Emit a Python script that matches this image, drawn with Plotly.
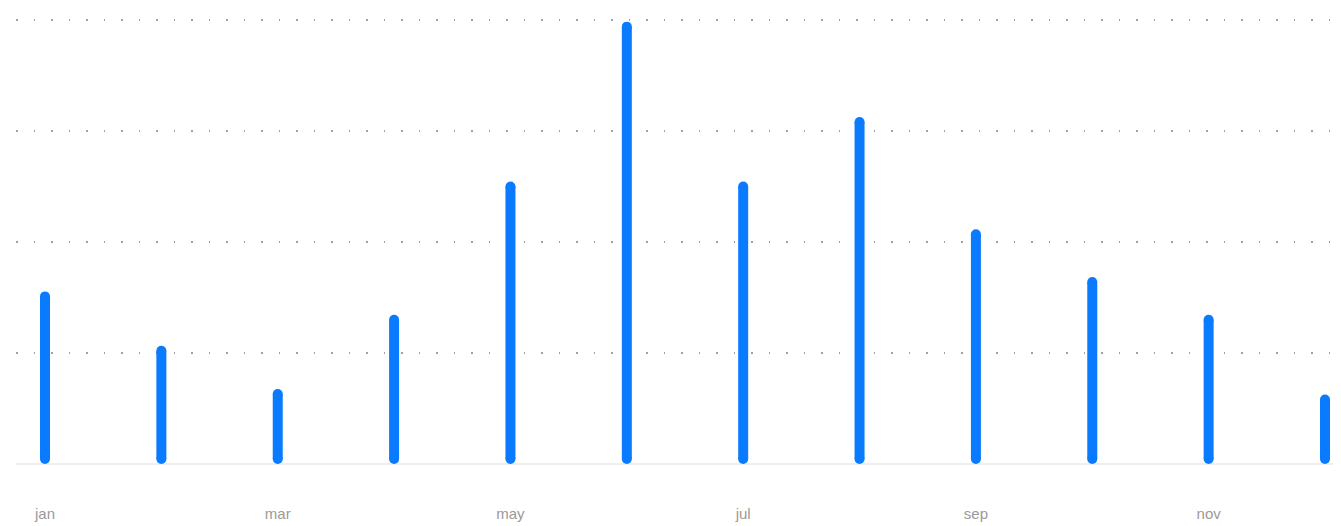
import plotly.graph_objects as go

months = ["jan", "feb", "mar", "apr", "may", "jun", "jul", "aug", "sep", "oct", "nov", "dec"]
values = [151, 102, 63, 130, 250, 394, 250, 308, 207, 164, 130, 58]
tick_months = ["jan", "mar", "may", "jul", "sep", "nov"]
grid_values = [0, 100, 200, 300, 400]

# page has an 8px body margin
BODY = 8
PAGE_W, PAGE_H = 1341, 526
W, H = PAGE_W - BODY, PAGE_H - BODY
plot_left, plot_right, plot_top, plot_bottom = 16, 1341, 10, 474
m_l = plot_left - BODY
m_r = (BODY + W) - plot_right
m_t = plot_top - BODY
m_b = (BODY + H) - plot_bottom
plot_h = plot_bottom - plot_top

pad_px = 10
unit_per_px = 400 / (plot_h - 2 * pad_px)
y_range = [-pad_px * unit_per_px, 400 + pad_px * unit_per_px]

cap_px = 5
base = cap_px * unit_per_px

idx = list(range(len(months)))
xs, ys = [], []
for i, v in zip(idx, values):
    xs += [i, i, None]
    ys += [base, v, None]

fig = go.Figure()
fig.add_trace(go.Scatter(
    x=xs, y=ys, mode="lines+markers",
    line=dict(color="#0A7BFF", width=10),
    marker=dict(color="#0A7BFF", size=10, line=dict(width=0)),
    hoverinfo="skip", showlegend=False,
))

first_px, last_px = 45, 1325
px_per_x = (last_px - first_px) / 11
x_range = [-(first_px - plot_left) / px_per_x, 11 + (plot_right - last_px) / px_per_x]

fig.update_layout(
    width=W, height=H,
    margin=dict(l=m_l, r=m_r, t=m_t, b=m_b, pad=0),
    paper_bgcolor="white", plot_bgcolor="white",
    xaxis=dict(
        range=x_range,
        tickmode="array",
        tickvals=[months.index(m) for m in tick_months],
        ticktext=tick_months,
        showgrid=False, zeroline=False, showline=False,
        ticks="outside", ticklen=26, tickcolor="rgba(0,0,0,0)",
        tickfont=dict(family="Liberation Sans, Arial, sans-serif", size=15, color="#9a9a9a"),
    ),
    yaxis=dict(
        range=y_range,
        tickmode="array", tickvals=grid_values,
        showticklabels=False,
        showgrid=True, gridcolor="#a0a0a0", gridwidth=1.5, griddash="1.5px,16px",
        zeroline=True, zerolinecolor="#efefef", zerolinewidth=2,
        showline=False,
    ),
)

fig.write_html("out.html")
